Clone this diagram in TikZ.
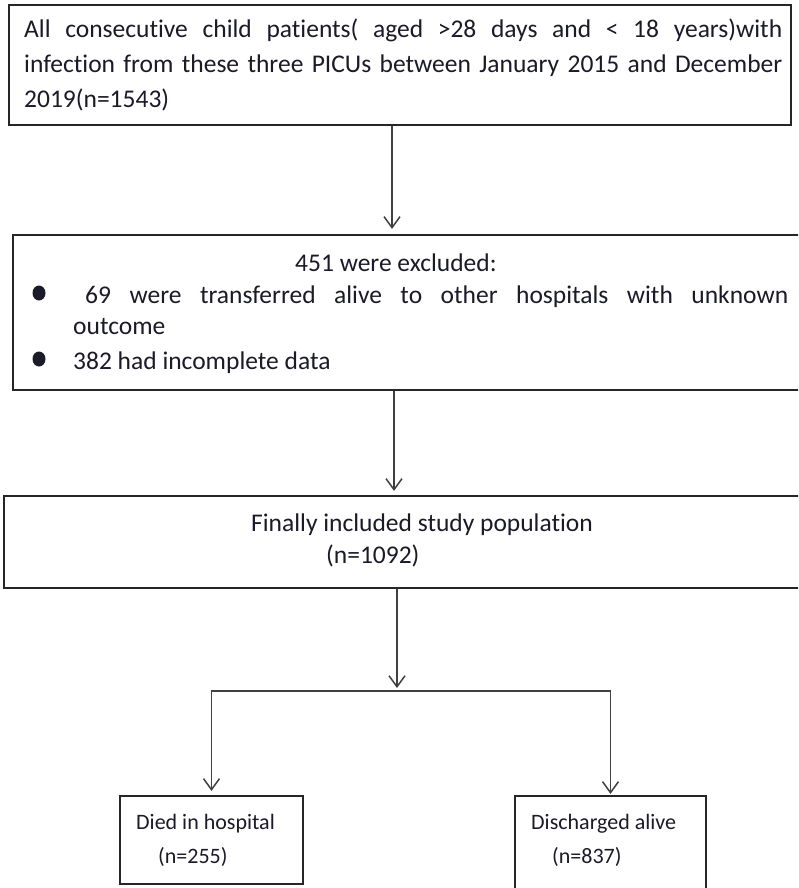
\documentclass[tikz,border=0pt]{standalone}
\usepackage{fontspec}
\setmainfont{Carlito}[Ligatures=NoCommon]
\usetikzlibrary{arrows.meta}
\definecolor{boxline}{HTML}{262626}
\definecolor{arrline}{HTML}{404040}
\definecolor{txtcol}{HTML}{1A1A28}
\begin{document}
\begin{tikzpicture}[x=1pt,y=-1pt,
  box/.style={draw=boxline,line width=2.2pt,rectangle,inner sep=0pt},
  txt/.style={inner sep=0pt,anchor=base west,text=txtcol,font=\fontsize{25.5}{25}\selectfont},
  stxt/.style={inner sep=0pt,anchor=base west,text=txtcol,font=\fontsize{22}{22}\selectfont},
  arr/.style={draw=arrline,line width=1.5pt,-{Straight Barb[length=11pt,width=16pt]}},
  ln/.style={draw=arrline,line width=1.5pt}]
\useasboundingbox (0,0) rectangle (798,888);
\clip (0,0) rectangle (798,888);
\fill[white] (0,0) rectangle (798,888);
% boxes
\node[box,minimum width=782pt,minimum height=120pt] (b1) at (400,65) {};
\node[box,minimum width=792pt,minimum height=155pt] (b2) at (409,312.5) {};
\node[box,minimum width=801pt,minimum height=92pt] (b3) at (404.5,542) {};
\node[box,minimum width=183pt,minimum height=88pt] (b4) at (211.5,840) {};
\node[box,minimum width=191pt,minimum height=96pt] (b5) at (610.5,844) {};
% box 1 text
\node[txt] (t1a) at (24,38) {\makebox[758pt][s]{All consecutive child patients( aged >28 days and < 18 years)with}};
\node[txt] (t1b) at (24,72.5) {\makebox[758pt][s]{infection from these three PICUs between January 2015 and December}};
\node[txt] (t1c) at (24,107) {2019(n=1543)};
% box 2 text
\node[txt] (t2a) at (295,271) {451 were excluded:};
\fill[txtcol] (39,293) ellipse (6.5pt and 7.5pt);
\node[txt] (t2b) at (85,303) {\makebox[703pt][s]{69 were transferred alive to other hospitals with unknown}};
\node[txt] (t2c) at (73,334) {outcome};
\fill[txtcol] (39,359) ellipse (6.5pt and 7.5pt);
\node[txt] (t2d) at (73,369) {382 had incomplete data};
% box 3 text
\node[txt] (t3a) at (251,531) {Finally included study population};
\node[txt] (t3b) at (326,563) {(n=1092)};
% box 4/5 text
\node[stxt] (t4a) at (136,829) {Died in hospital};
\node[stxt] (t4b) at (158,863) {(n=255)};
\node[stxt] (t5a) at (531,829) {Discharged alive};
\node[stxt] (t5b) at (552,863) {(n=837)};
% connectors
\coordinate (c1) at (392,0);
\coordinate (c2) at (394,0);
\coordinate (split) at (397,691);
\coordinate (dl) at (211.5,691);
\coordinate (dr) at (610.5,691);
\draw[arr,shorten >=5pt] (b1.south -| c1) -- (b2.north -| c1);
\draw[arr,shorten >=4pt] (b2.south -| c2) -- (b3.north -| c2);
\draw[arr,shorten >=3pt] (b3.south -| split) -- (split);
\draw[ln,line cap=rect] (dl) -- (dr);
\draw[arr,shorten >=4pt] (dl) -- (b4.north);
\draw[arr,shorten >=1pt] (dr) -- (b5.north);
\end{tikzpicture}
\end{document}
